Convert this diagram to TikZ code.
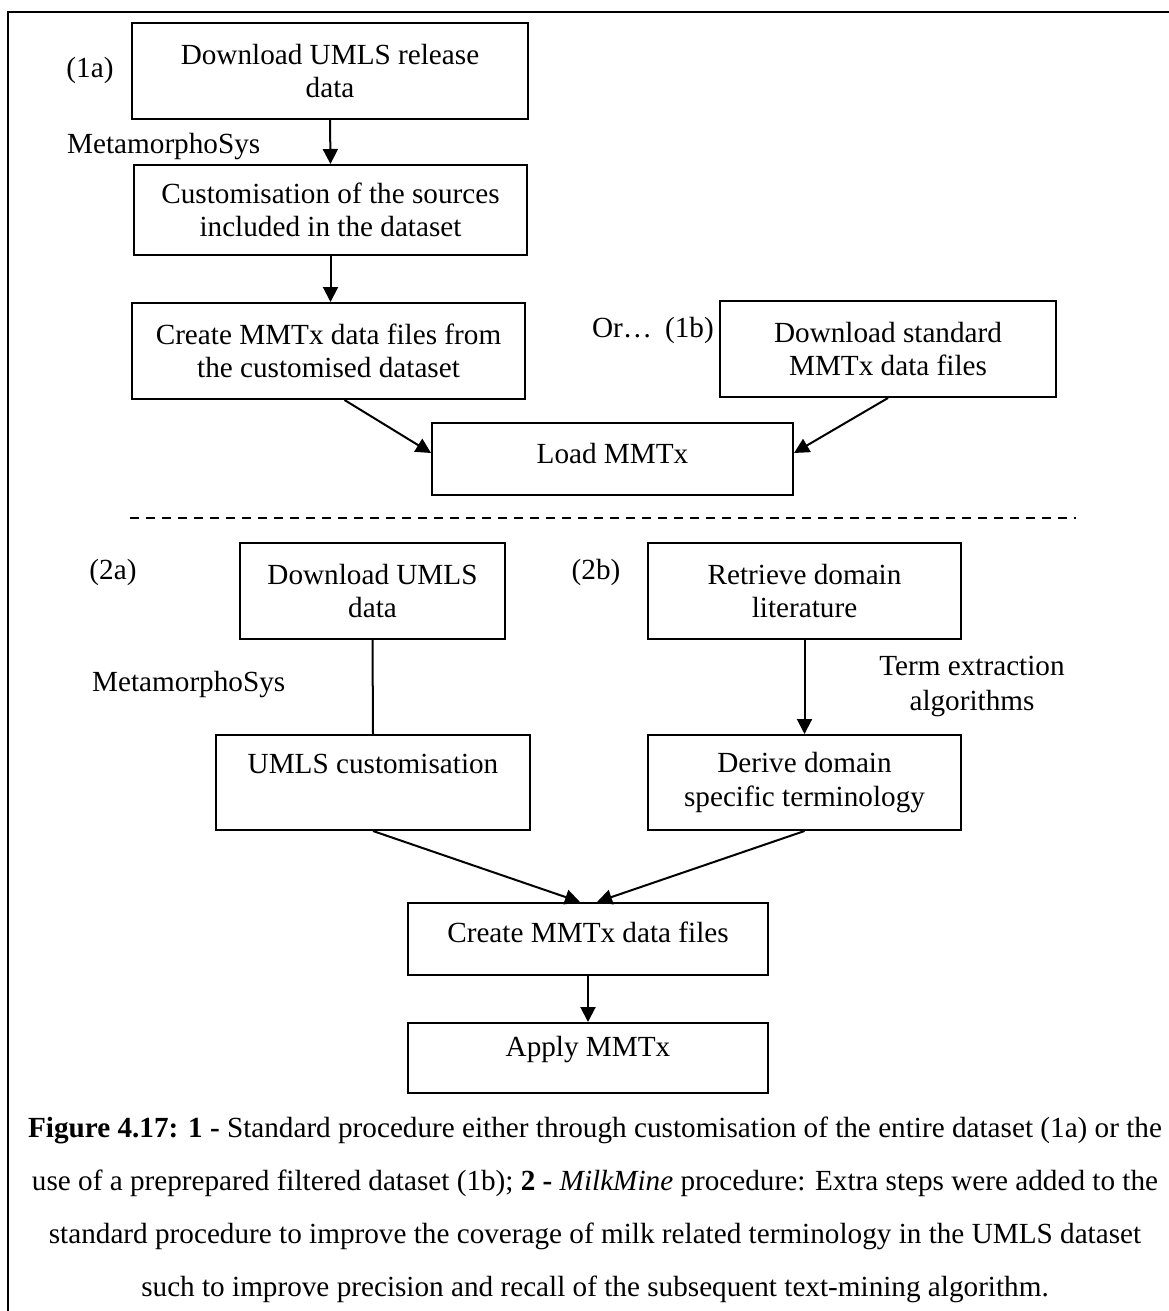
\documentclass[tikz,border=0pt]{standalone}
\usepackage{fontspec}
\setmainfont{Liberation Serif}
\usetikzlibrary{arrows.meta}
\tikzset{
  box/.style={draw, line width=2pt, inner xsep=0pt, inner ysep=0pt, align=center,
    font=\fontsize{29.2}{33.6}\selectfont},
  lbl/.style={inner sep=0pt, font=\fontsize{29.2}{35}\selectfont, align=center},
  arr/.style={line width=2pt, -{Triangle[length=15pt,width=15pt]}},
  conn/.style={line width=2pt}
}
\begin{document}
\begin{tikzpicture}[x=1pt,y=-1pt]
\useasboundingbox (0,0) rectangle (1168,1311);
\draw[line width=2.5pt] (8,1312) -- (8,12) -- (1169,12);

% part 1
\node[box, minimum width=396pt, minimum height=96pt] (b1) at (330,71) {Download UMLS release\\data};
\node[lbl] (l1a) at (90,70) {(1a)};
\node[lbl, anchor=west] (meta1) at (67,147) {MetamorphoSys};
\node[box, minimum width=393pt, minimum height=90pt] (b2) at (330.5,210) {Customisation of the sources\\included in the dataset};
\node[box, minimum width=393pt, minimum height=96pt] (b3) at (328.5,351) {Create MMTx data files from\\the customised dataset};
\node[box, minimum width=336pt, minimum height=96pt] (b4) at (888,349) {Download standard\\MMTx data files};
\node[lbl, anchor=east] (or1b) at (714,330) {Or…\hspace{0.45em}(1b)};
\node[box, minimum width=361pt, minimum height=72pt, text height=40pt, text depth=32pt] (load) at (612.5,459) {Load MMTx};

\draw[arr] (b1.south) -- (b2.north);
\draw[arr] (b2.south) -- (b3.north -| b2.south);
\draw[arr] ([xshift=16pt]b3.south) -- ([yshift=6pt]load.west);
\draw[arr] (b4.south) -- ([yshift=6pt]load.east);

% separator
\coordinate (dl) at (130,518);
\coordinate (dr) at (1076,518);
\draw[line width=2pt, dash pattern=on 9pt off 7pt] (dl) -- (dr);

% part 2
\node[lbl] (l2a) at (113,572) {(2a)};
\node[lbl] (l2b) at (596,572) {(2b)};
\node[box, minimum width=265pt, minimum height=96pt] (d2) at (372.5,591) {Download UMLS\\data};
\node[box, minimum width=313pt, minimum height=96pt] (rd) at (804.5,591) {Retrieve domain\\literature};
\node[lbl, anchor=west] (meta2) at (92,685) {MetamorphoSys};
\node[lbl] (term) at (972,686) {Term extraction\\algorithms};
\node[box, minimum width=314pt, minimum height=95pt, text height=38pt, text depth=57pt] (uc) at (373,782.5) {UMLS customisation};
\node[box, minimum width=313pt, minimum height=95pt] (dv) at (804.5,782.5) {Derive domain\\specific terminology};
\node[box, minimum width=360pt, minimum height=72pt, text height=39pt, text depth=33pt] (cr) at (588,939) {Create MMTx data files};
\node[box, minimum width=360pt, minimum height=70pt, text height=33pt, text depth=37pt] (ap) at (588,1058) {Apply MMTx};

\draw[conn] (d2.south) -- (uc.north);
\draw[arr] (rd.south) -- (dv.north);
\draw[arr] (uc.south) -- ([xshift=-8pt]cr.north);
\draw[arr] (dv.south) -- ([xshift=9pt]cr.north);
\draw[arr] (cr.south) -- (ap.north);

% caption
\node[inner sep=0pt, align=center, font=\fontsize{29.2}{53}\selectfont] (cap) at (595,1210)
{\textbf{Figure 4.17: 1 -} Standard procedure either through customisation of the entire dataset (1a) or the\\
use of a preprepared filtered dataset (1b); \textbf{2 -} \textit{MilkMine} procedure: Extra steps were added to the\\
standard procedure to improve the coverage of milk related terminology in the UMLS dataset\\
such to improve precision and recall of the subsequent text-mining algorithm.};
\end{tikzpicture}
\end{document}
